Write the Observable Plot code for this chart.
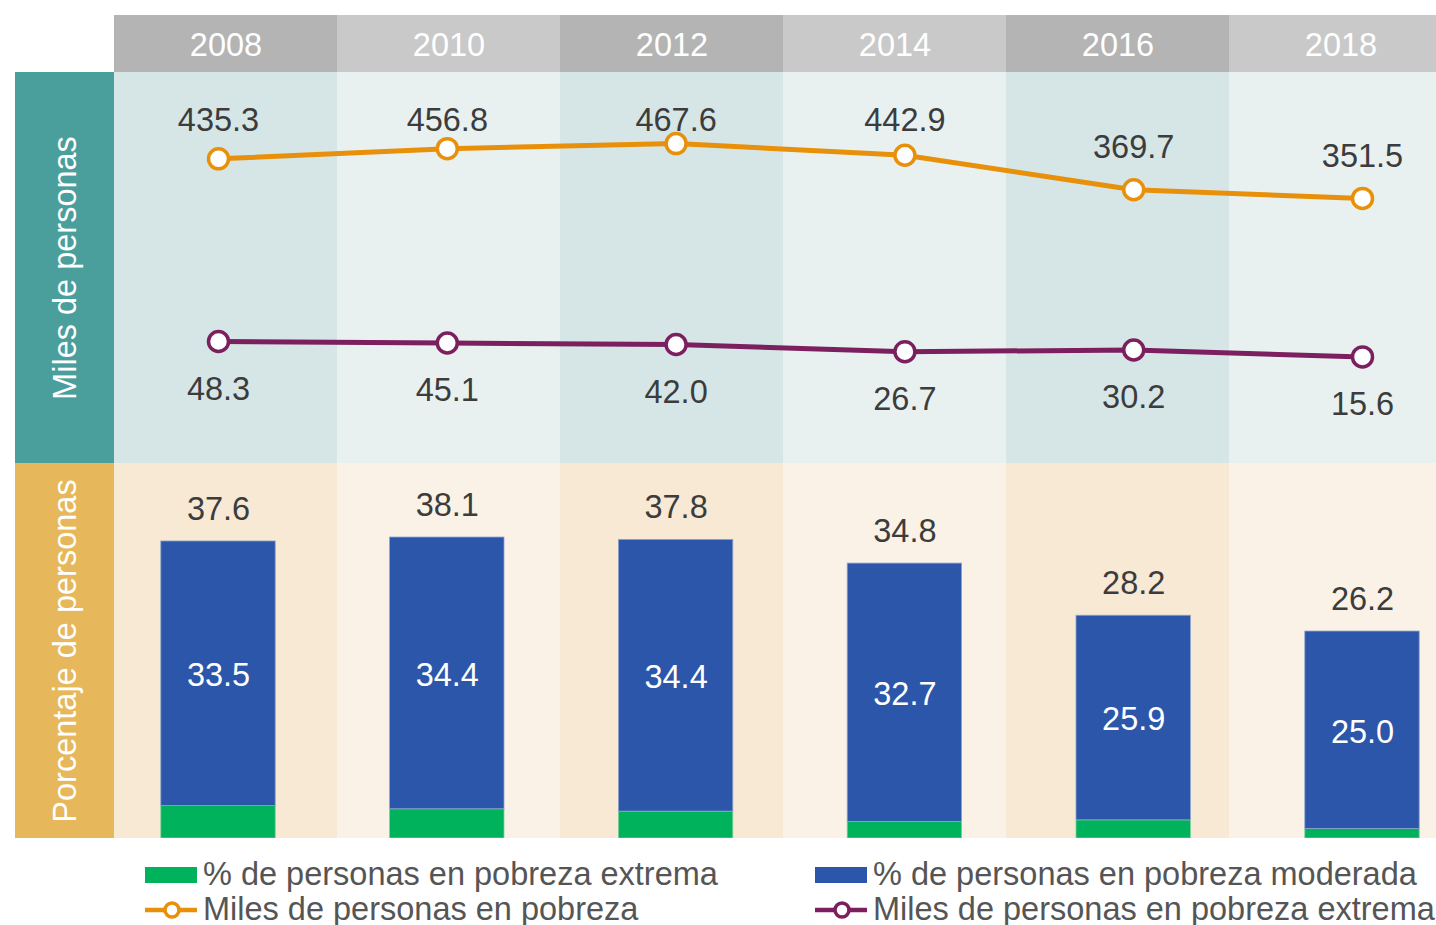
<!DOCTYPE html>
<html>
<head>
<meta charset="utf-8">
<script src="https://cdn.jsdelivr.net/npm/d3@7"></script>
<script src="https://cdn.jsdelivr.net/npm/@observablehq/plot@0.6"></script>
<style>
  html, body { margin: 0; padding: 0; background: #fff; overflow: hidden; }
  #chart { position: relative; width: 1436px; height: 925px; font-family: "Liberation Sans", Arial, sans-serif; }
  .layer { position: absolute; left: 0; }
  .layer svg { display: block; overflow: hidden; }
  .side { position: absolute; left: 15px; width: 99px; }
  .side span { position: absolute; left: 50%; top: 50%; transform: translate(-50%, -50%) rotate(-90deg); white-space: nowrap; color: #fff; font-size: 32.5px; }
  .leg { position: absolute; display: flex; align-items: center; font-size: 32.5px; color: #555; white-space: nowrap; }
  .leg svg { margin-right: 6px; flex: none; }
</style>
</head>
<body>
<div id="chart">
  <div class="side" style="top:72px;height:391px;background:#4a9f9d"><span>Miles de personas</span></div>
  <div class="side" style="top:463px;height:375px;background:#e6b75b"><span>Porcentaje de personas</span></div>
  <div class="layer" id="header" style="top:15px"></div>
  <div class="layer" id="topbg" style="top:72px"></div>
  <div class="layer" id="botbg" style="top:463px"></div>
  <div class="layer" id="topfg" style="top:72px"></div>
  <div class="layer" id="botfg" style="top:463px"></div>
  <div class="leg" style="left:145px;top:856px">
    <svg width="52" height="26"><rect x="0" y="5" width="52" height="16" fill="#00b25c"/></svg>% de personas en pobreza extrema
  </div>
  <div class="leg" style="left:815px;top:856px">
    <svg width="52" height="26"><rect x="0" y="5" width="52" height="16" fill="#2c56aa"/></svg>% de personas en pobreza moderada
  </div>
  <div class="leg" style="left:145px;top:891px">
    <svg width="52" height="26"><line x1="0" x2="52" y1="13" y2="13" stroke="#e8900a" stroke-width="4.5"/><circle cx="27" cy="13" r="7" fill="#fff" stroke="#e8900a" stroke-width="3.5"/></svg>Miles de personas en pobreza
  </div>
  <div class="leg" style="left:815px;top:891px">
    <svg width="52" height="26"><line x1="0" x2="52" y1="13" y2="13" stroke="#7b1f5e" stroke-width="4.5"/><circle cx="27" cy="13" r="7" fill="#fff" stroke="#7b1f5e" stroke-width="3.5"/></svg>Miles de personas en pobreza extrema
  </div>
</div>
<script>
// ---- data ----
const years = [2008, 2010, 2012, 2014, 2016, 2018];
const milesPobreza = [435.3, 456.8, 467.6, 442.9, 369.7, 351.5];
const milesPobrezaExtrema = [48.3, 45.1, 42.0, 26.7, 30.2, 15.6];
const pctExtrema = [4.1, 3.7, 3.4, 2.1, 2.3, 1.2];
const pctModerada = [33.5, 34.4, 34.4, 32.7, 25.9, 25.0];

// ---- colors ----
const ORANGE = "#e8900a", PURPLE = "#7b1f5e", BLUE = "#2c56aa", GREEN = "#00b25c";
const FONT = "Liberation Sans, Arial, sans-serif";
const FS = 32.5;

const rows = years.map((y, i) => ({
  year: y, idx: i,
  pob: milesPobreza[i], ext: milesPobrezaExtrema[i],
  pe: pctExtrema[i], pm: pctModerada[i], total: pctExtrema[i] + pctModerada[i]
}));

const W = 1436;
const bandX = {type: "band", domain: years, range: [114, 114 + 6 * 223], padding: 0, axis: null};
const linX = {type: "linear", domain: [2008, 2018], range: [218, 1362], axis: null};
const base = {width: W, marginLeft: 0, marginRight: 0, marginTop: 0, marginBottom: 0,
  style: {background: "transparent", fontFamily: FONT, overflow: "hidden"}};

function bg(height, c1, c2) {
  return Plot.plot({...base, height, x: bandX,
    marks: [Plot.cell(years, {x: d => d, fill: (d, i) => i % 2 === 0 ? c1 : c2})]});
}

// header
document.getElementById("header").append(Plot.plot({...base, height: 57, x: bandX,
  marks: [
    Plot.cell(years, {x: d => d, fill: (d, i) => i % 2 === 0 ? "#b4b4b4" : "#c9c9c9"}),
    Plot.text(years, {x: d => d, text: d => String(d), fill: "#fff", fontSize: FS, dy: 2})
  ]}));

document.getElementById("topbg").append(bg(391, "#d6e6e6", "#e8f1f0"));
document.getElementById("botbg").append(bg(375, "#f7e9d4", "#faf2e7"));

// top panel: thousands of people
document.getElementById("topfg").append(Plot.plot({...base, height: 391, x: linX,
  y: {domain: [-210.2, 618.2], axis: null},
  marks: [
    Plot.line(rows, {x: "year", y: "pob", stroke: ORANGE, strokeWidth: 5}),
    Plot.line(rows, {x: "year", y: "ext", stroke: PURPLE, strokeWidth: 5}),
    Plot.dot(rows, {x: "year", y: "pob", r: 10, fill: "#fff", stroke: ORANGE, strokeWidth: 3.5}),
    Plot.dot(rows, {x: "year", y: "ext", r: 10, fill: "#fff", stroke: PURPLE, strokeWidth: 3.5}),
    Plot.text(rows, {x: "year", y: d => Math.min(d.pob, 427.5), text: d => d.pob.toFixed(1), dy: -42, fontSize: FS, fill: "#3c3c3c"}),
    Plot.text(rows, {x: "year", y: "ext", text: d => d.ext.toFixed(1), dy: 48, fontSize: FS, fill: "#3c3c3c"})
  ]}));

// bottom panel: percentage of people
document.getElementById("botfg").append(Plot.plot({...base, height: 375, x: linX,
  y: {domain: [0, 47.47], axis: null},
  marks: [
    Plot.rect(rows, {x1: d => d.year - 0.5, x2: d => d.year + 0.5, y1: 0, y2: "pe", fill: GREEN, stroke: "#7fcf9f", strokeWidth: 0.8}),
    Plot.rect(rows, {x1: d => d.year - 0.5, x2: d => d.year + 0.5, y1: "pe", y2: "total", fill: BLUE, stroke: "#8ea2cc", strokeWidth: 0.8}),
    Plot.text(rows, {x: "year", y: d => d.pe + d.pm / 2, text: d => d.pm.toFixed(1), dy: 2, fill: "#fff", fontSize: FS}),
    Plot.text(rows, {x: "year", y: "total", text: d => d.total.toFixed(1), dy: -32, fontSize: FS, fill: "#3c3c3c"})
  ]}));
</script>
</body>
</html>
